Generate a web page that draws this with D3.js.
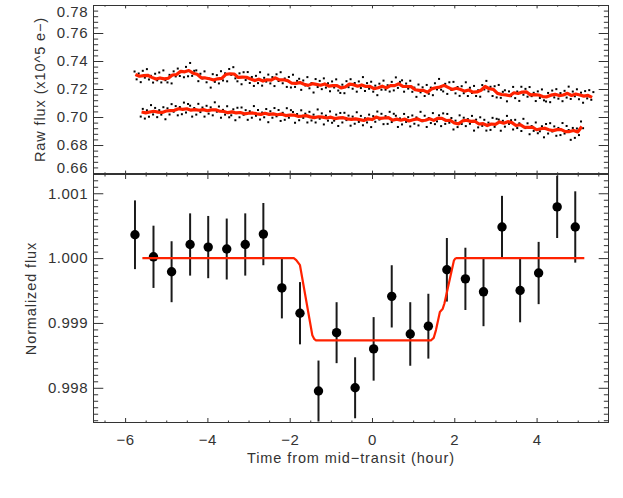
<!DOCTYPE html>
<html><head><meta charset="utf-8">
<script src="https://cdn.jsdelivr.net/npm/d3@7"></script>
<style>
body{margin:0;background:#fff}
svg{display:block}
text{font-family:"Liberation Sans",Arial,Helvetica,sans-serif;fill:#333}
</style>
</head><body>
<svg id="c" width="623" height="498"></svg>
<script>
// ---------------- DATA ----------------
// x-axis
const xMajorTicks = [-6, -4, -2, 0, 2, 4];
const xTickLabels = ["\u22126", "\u22124", "\u22122", "0", "2", "4"];
// top panel y ticks
const topYTicks = [0.66, 0.68, 0.70, 0.72, 0.74, 0.76, 0.78];
const topYLabels = ["0.66", "0.68", "0.70", "0.72", "0.74", "0.76", "0.78"];
// bottom panel y ticks
const botYTicks = [0.998, 0.999, 1.000, 1.001];
const botYLabels = ["0.998", "0.999", "1.000", "1.001"];

// Raw flux, upper light curve: smoothed model (red) and raw points (black)
const redStartA = -5.75, redStepA = 0.1;
const redA = [.7304,.7291,.7295,.7298,.7283,.7271,.7279,.7272,.7277,.7300,.7303,.7326,.7323,.7332,.7313,.7305,.7280,.7279,.7273,.7264,
.7273,.7276,.7305,.7309,.7307,.7283,.7285,.7284,.7271,.7260,.7270,.7257,.7266,.7263,.7280,.7265,.7266,.7260,.7241,.7240,
.7246,.7234,.7226,.7238,.7233,.7227,.7236,.7220,.7224,.7225,.7208,.7214,.7235,.7231,.7220,.7229,.7218,.7219,.7202,.7209,
.7220,.7208,.7225,.7224,.7237,.7219,.7218,.7217,.7195,.7190,.7190,.7177,.7201,.7209,.7214,.7226,.7212,.7197,.7205,.7197,
.7185,.7193,.7178,.7179,.7191,.7218,.7202,.7198,.7169,.7161,.7158,.7152,.7173,.7168,.7178,.7180,.7158,.7160,.7157,.7146,
.7144,.7156,.7162,.7153,.7157,.7169,.7154,.7164,.7157,.7149,.7154,.7140];
const rawStartA = -5.77, rawStepA = 0.05;
const rawA = [.7325,.7269,.7311,.7249,.7330,.7281,.7342,.7268,.7294,.7246,.7309,.7262,.7318,.7247,.7333,.7263,.7247,.7301,.7240,.7326,
.7290,.7346,.7293,.7329,.7284,.7358,.7291,.7386,.7294,.7330,.7333,.7256,.7309,.7275,.7326,.7248,.7276,.7210,.7306,.7251,
.7299,.7240,.7327,.7261,.7312,.7255,.7343,.7301,.7356,.7276,.7255,.7312,.7234,.7320,.7264,.7321,.7243,.7286,.7222,.7294,
.7242,.7320,.7224,.7280,.7253,.7303,.7240,.7285,.7221,.7305,.7257,.7320,.7241,.7275,.7215,.7286,.7211,.7302,.7215,.7258,
.7273,.7194,.7261,.7225,.7285,.7205,.7242,.7175,.7271,.7214,.7258,.7199,.7276,.7210,.7241,.7184,.7254,.7211,.7269,.7189,
.7172,.7231,.7170,.7256,.7213,.7270,.7202,.7243,.7181,.7254,.7207,.7285,.7186,.7242,.7202,.7252,.7181,.7224,.7156,.7238,
.7195,.7260,.7195,.7227,.7182,.7251,.7190,.7283,.7208,.7251,.7262,.7181,.7239,.7203,.7259,.7180,.7210,.7144,.7232,.7176,
.7212,.7150,.7229,.7166,.7210,.7156,.7241,.7197,.7272,.7195,.7183,.7237,.7165,.7248,.7193,.7251,.7169,.7214,.7151,.7220,
.7170,.7248,.7150,.7209,.7172,.7222,.7150,.7191,.7145,.7228,.7197,.7258,.7183,.7216,.7150,.7220,.7140,.7229,.7137,.7180,
.7191,.7112,.7183,.7149,.7215,.7135,.7182,.7115,.7216,.7159,.7201,.7145,.7214,.7149,.7173,.7114,.7183,.7136,.7197,.7119,
.7111,.7172,.7106,.7189,.7140,.7199,.7131,.7171,.7113,.7187,.7139,.7217,.7129,.7182,.7148,.7198,.7127,.7174,.7102,.7185,
.7133,.7192,.7123,.7178];

// Raw flux, lower light curve
const redStartB = -5.60, redStepB = 0.1;
const redB = [.7036,.7030,.7036,.7041,.7035,.7033,.7043,.7046,.7048,.7059,.7055,.7059,.7049,.7053,.7048,.7053,.7045,.7051,.7052,.7041,
.7040,.7031,.7037,.7029,.7032,.7023,.7027,.7029,.7023,.7019,.7027,.7019,.7022,.7016,.7021,.7010,.7014,.7014,.7005,.7007,
.7010,.7001,.6996,.7002,.6999,.6993,.6999,.6989,.6994,.6995,.6987,.6983,.6987,.6981,.6975,.6987,.6982,.7000,.6990,.6993,
.6995,.6977,.6985,.6977,.6985,.6972,.6980,.6987,.6974,.6977,.6987,.6976,.6991,.6990,.6975,.6977,.6957,.6951,.6972,.6977,
.6969,.6970,.6950,.6953,.6939,.6950,.6948,.6965,.6956,.6967,.6960,.6939,.6945,.6927,.6926,.6927,.6909,.6916,.6920,.6909,
.6903,.6910,.6910,.6896,.6896,.6904,.6893,.6932];
const rawStartB = -5.62, rawStepB = 0.05;
const rawB = [.7003,.7058,.6989,.7048,.7002,.7085,.7018,.7065,.6999,.7049,.7017,.7070,.6984,.7062,.7018,.7092,.7038,.7078,.7012,.7071,
.7020,.7103,.7032,.7093,.7081,.7003,.7064,.7017,.7094,.7035,.7068,.7003,.7080,.7024,.7069,.7012,.7105,.7038,.7075,.6995,
.7051,.7017,.7077,.6998,.7012,.7055,.6977,.7066,.6998,.7068,.7016,.7049,.6980,.7041,.6995,.7078,.7009,.7050,.6982,.7032,
.6998,.7057,.6963,.7041,.6995,.7064,.7005,.7050,.6972,.7030,.6980,.7063,.6995,.7049,.7036,.6959,.7021,.6977,.7048,.6994,
.7024,.6961,.7037,.6975,.7017,.6961,.7054,.6988,.7026,.6947,.7010,.6974,.7040,.6959,.6974,.7017,.6936,.7029,.6961,.7030,
.6978,.7010,.6938,.7003,.6952,.7034,.6965,.7008,.6941,.6991,.6961,.7017,.6928,.7006,.6966,.7039,.6982,.7023,.6949,.7006,
.6951,.7037,.6964,.7023,.7009,.6929,.6990,.6947,.7022,.6965,.6999,.6933,.7011,.6952,.6997,.6940,.7037,.6970,.7009,.6929,
.6993,.6957,.7028,.6949,.6969,.7012,.6935,.7026,.6951,.7022,.6959,.6993,.6911,.6974,.6928,.7012,.6950,.6995,.6935,.6985,
.6952,.7008,.6903,.6981,.6926,.6998,.6937,.6980,.6903,.6960,.6908,.6994,.6930,.6987,.6982,.6902,.6973,.6931,.7008,.6951,
.6977,.6911,.6980,.6921,.6955,.6900,.6987,.6921,.6955,.6877,.6935,.6901,.6961,.6884,.6898,.6934,.6855,.6950,.6882,.6956,
.6897,.6933,.6866,.6922,.6871,.6957,.6882,.6936,.6907,.6837,.6922,.6851,.6918,.6871,.6968,.6920];

// Binned normalized flux with errors
const binTime = [-5.76,-5.31,-4.87,-4.42,-3.98,-3.53,-3.08,-2.64,-2.19,-1.75,-1.30,-0.86,-0.41,0.04,0.48,0.93,1.37,1.82,2.27,2.71,3.16,3.60,4.05,4.50,4.94];
const binFlux = [1.00036,1.00002,0.99979,1.00021,1.00017,1.00014,1.00021,1.00037,0.99954,0.99915,0.99795,0.99885,0.99800,0.99860,0.99941,0.99883,0.99895,0.99982,0.99968,0.99948,1.00048,0.99950,0.99977,1.00079,1.00048];
const binErr  = [0.00053,0.00048,0.00047,0.00048,0.00048,0.00047,0.00048,0.00048,0.00047,0.00048,0.00047,0.00047,0.00047,0.00049,0.00048,0.00049,0.00050,0.00049,0.00048,0.00053,0.00048,0.00049,0.00048,0.00048,0.00055];

// Transit model
const modelTime = [-5.58,-1.90,-1.84,-1.75,-1.45,-1.40,-1.36,1.43,1.50,1.555,1.65,1.72,1.76,1.99,2.02,2.05,5.16];
const modelFlux = [1.0,1.0,0.99997,0.99989,0.99881,0.99875,0.99873,0.99873,0.99877,0.99889,0.99917,0.99922,0.99930,0.99996,0.99999,1.0,1.0];

// ---------------- DRAW ----------------
const AX = "#333";
const RED = "#ff2200";
const FONT = '"Liberation Sans",Arial,sans-serif';
const svg = d3.select("#c");
const L = 93, R = 609, T1 = 5, B1 = 174, T2 = 174, B2 = 423;

const x = d3.scaleLinear().domain([-6.78, 5.76]).range([L, R]);
const yTop = d3.scaleLinear().domain([0.6593, 0.7800]).range([B1, T1]);
const yBot = d3.scaleLinear().domain([0.997457, 1.001297]).range([B2, T2]);

const xMinor = d3.range(-6.5, 5.76, 0.5).filter(v => Math.abs(v - Math.round(v / 2) * 2) > 1e-6);
const topYMinor = d3.range(0.66, 0.7801, 0.004).filter(v => topYTicks.every(t => Math.abs(t - v) > 1e-6));
const botYMinor = d3.range(0.9975, 1.0013, 0.0001).filter(v => botYTicks.every(t => Math.abs(t - v) > 1e-7));

svg.append("defs").html(
  `<clipPath id="cp1"><rect x="${L}" y="${T1}" width="${R-L}" height="${B1-T1}"/></clipPath>` +
  `<clipPath id="cp2"><rect x="${L}" y="${T2}" width="${R-L}" height="${B2-T2}"/></clipPath>`);

function axisSet(yScale, top, bottom, yMaj, yMin, yLab, xLab, xLen, yLen, xPad, yPad) {
  const g = svg.append("g");
  function add(axisFn, scale, vals, len, transform, labels, pad) {
    const a = axisFn(scale).tickValues(vals).tickSizeInner(-len).tickSizeOuter(0)
      .tickPadding(pad || 0)
      .tickFormat(labels ? ((d, i) => labels[i]) : () => "");
    const ga = g.append("g").attr("transform", transform).call(a);
    ga.select(".domain").remove();
    ga.selectAll("line").attr("stroke", AX).attr("stroke-width", 1);
    ga.selectAll("text").attr("fill", "#333").attr("font-size", 15)
      .style("font-family", FONT).attr("letter-spacing", "0.5px");
    return ga;
  }
  add(d3.axisBottom, x, xMajorTicks, xLen, `translate(0,${bottom})`, xLab, xPad);
  add(d3.axisBottom, x, xMinor, xLen / 2, `translate(0,${bottom})`);
  add(d3.axisTop, x, xMajorTicks, xLen, `translate(0,${top})`);
  add(d3.axisTop, x, xMinor, xLen / 2, `translate(0,${top})`);
  const yl = add(d3.axisLeft, yScale, yMaj, yLen, `translate(${L},0)`, yLab, yPad);
  add(d3.axisLeft, yScale, yMin, yLen / 2, `translate(${L},0)`);
  add(d3.axisRight, yScale, yMaj, yLen, `translate(${R},0)`);
  add(d3.axisRight, yScale, yMin, yLen / 2, `translate(${R},0)`);
  g.append("rect").attr("x", L + 0.5).attr("y", top + 0.5).attr("width", R - L - 1).attr("height", bottom - top - 1)
    .attr("fill", "none").attr("stroke", AX).attr("stroke-width", 1);
  return yl;
}

// ---- top panel ----
const gTop = svg.append("g").attr("clip-path", "url(#cp1)");
function rawSeries(vals, start, step) { return vals.map((v, i) => ({ t: start + i * step, v })); }
[[rawA, rawStartA, rawStepA], [rawB, rawStartB, rawStepB]].forEach(([vals, s, st]) => {
  gTop.append("g").selectAll("rect").data(rawSeries(vals, s, st)).join("rect")
    .attr("x", d => x(d.t) - 1).attr("y", d => yTop(d.v) - 1)
    .attr("width", 2).attr("height", 2).attr("fill", "#000");
});
const lineTop = d3.line().x(d => x(d.t)).y(d => yTop(d.v));
[[redA, redStartA, redStepA], [redB, redStartB, redStepB]].forEach(([vals, s, st]) => {
  gTop.append("path").datum(rawSeries(vals, s, st)).attr("d", lineTop)
    .attr("fill", "none").attr("stroke", RED).attr("stroke-width", 3.2).attr("stroke-linejoin", "round");
});

// ---- bottom panel ----
const gBot = svg.append("g").attr("clip-path", "url(#cp2)");
const bins = binTime.map((t, i) => ({ t, f: binFlux[i], e: binErr[i] }));
gBot.selectAll("line.err").data(bins).join("line").attr("class", "err")
  .attr("x1", d => x(d.t)).attr("x2", d => x(d.t))
  .attr("y1", d => yBot(d.f - d.e)).attr("y2", d => yBot(d.f + d.e))
  .attr("stroke", "#1a1a1a").attr("stroke-width", 2);
gBot.selectAll("circle").data(bins).join("circle")
  .attr("cx", d => x(d.t)).attr("cy", d => yBot(d.f)).attr("r", 4.7).attr("fill", "#000");
const model = modelTime.map((t, i) => ({ t, v: modelFlux[i] }));
gBot.append("path").datum(model)
  .attr("d", d3.line().x(d => x(d.t)).y(d => yBot(d.v)))
  .attr("fill", "none").attr("stroke", RED).attr("stroke-width", 2.2).attr("stroke-linejoin", "round");

// axes
const topLabels = axisSet(yTop, T1, B1, topYTicks, topYMinor, topYLabels, null, 3.4, 10.3, 0, 5);
axisSet(yBot, T2, B2, botYTicks, botYMinor, botYLabels, xTickLabels, 5, 10.3, 11, 5);
// keep the edge labels of the upper panel inside its frame
topLabels.selectAll(".tick text").attr("dy", (d) => d === 0.78 ? "0.75em" : d === 0.66 ? "-0.05em" : "0.32em");

// titles
const tstyle = sel => sel.attr("font-size", 14.5).attr("fill", "#333").attr("letter-spacing", "0.9px")
  .style("font-family", FONT);
svg.append("text").attr("x", (L + R) / 2).attr("y", 463).attr("text-anchor", "middle")
  .text("Time from mid\u2212transit (hour)").call(tstyle);
svg.append("text").attr("transform", `translate(45,${(T1 + B1) / 2}) rotate(-90)`).attr("text-anchor", "middle")
  .text("Raw flux (x10^5 e\u2212)").call(tstyle);
svg.append("text").attr("transform", `translate(36,${(T2 + B2) / 2}) rotate(-90)`).attr("text-anchor", "middle")
  .text("Normalized flux").call(tstyle);
</script>
</body></html>
